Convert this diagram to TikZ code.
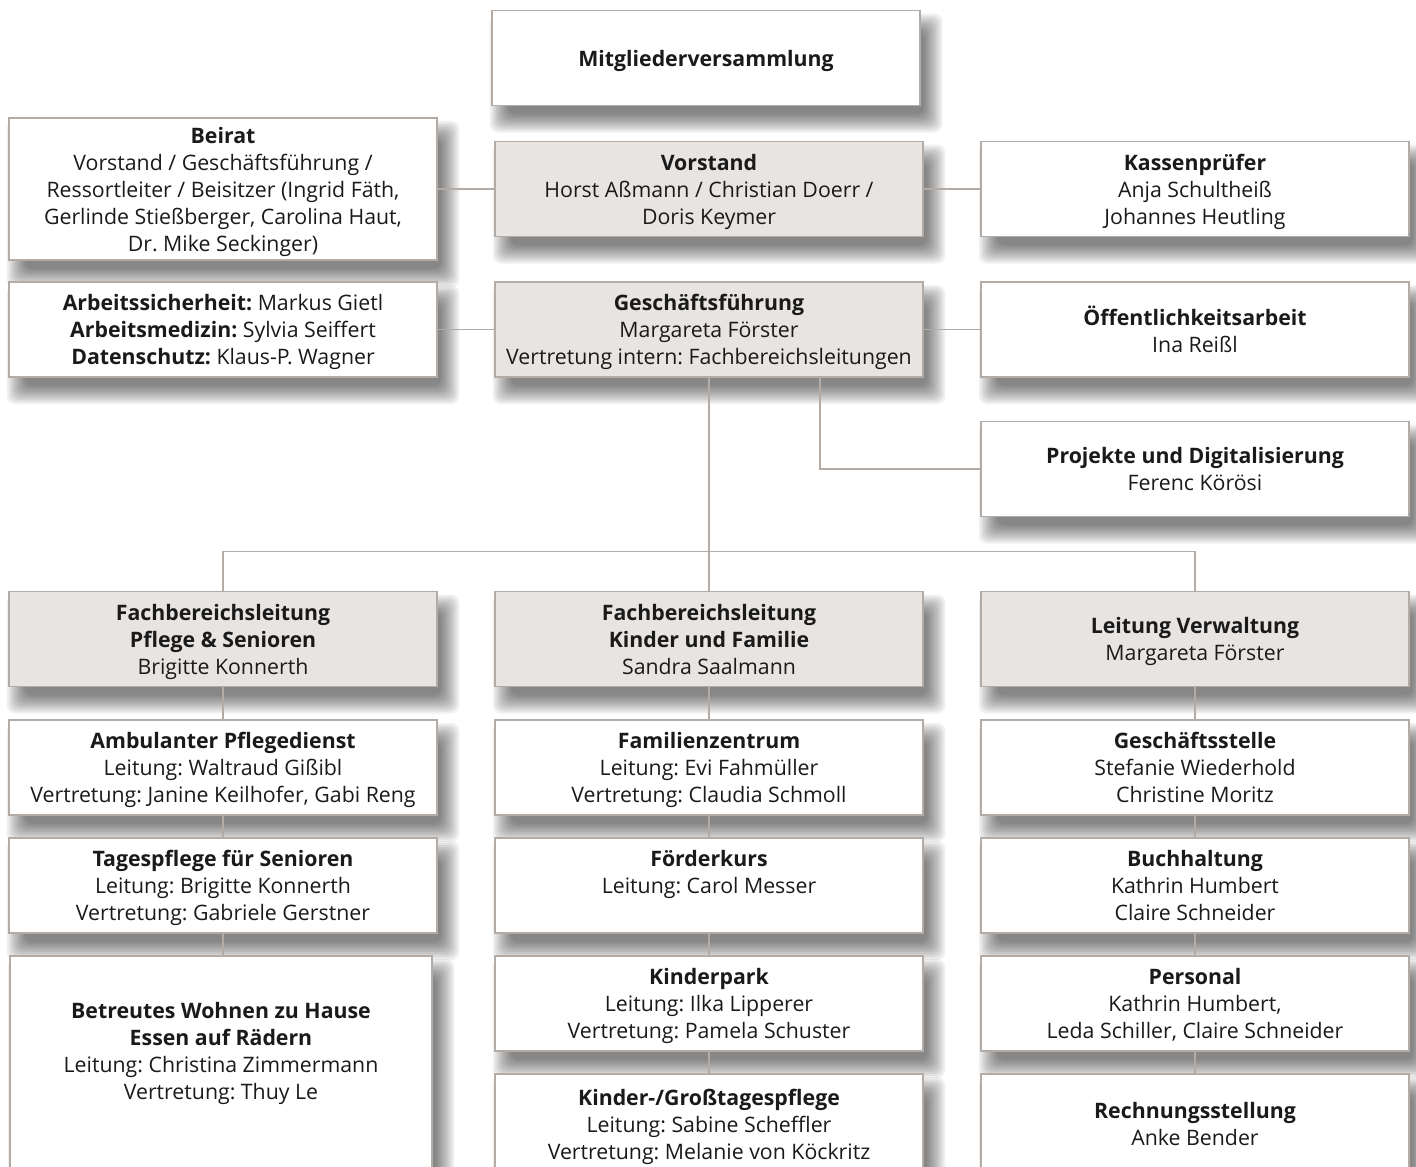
\documentclass[tikz,border=0pt]{standalone}
\usepackage{fontspec}
\setmainfont{Open Sans}
\frenchspacing
\usetikzlibrary{positioning,backgrounds}

\definecolor{edgegray}{HTML}{B3ABA5}
\definecolor{leadfill}{HTML}{E7E4E1}
\definecolor{inkblack}{HTML}{1A1A1A}

\tikzset{
  unit/.style={draw=edgegray, line width=1.6pt, fill=white, text=inkblack,
    minimum width=428.5pt, minimum height=95pt, outer sep=0pt,
    align=center, inner sep=4pt, text depth=-4pt,
    font=\fontsize{21.3}{27}\selectfont},
  lead/.style={unit, fill=leadfill},
  link/.style={draw=edgegray, line width=1.6pt},
  haze/.style={fill=black, opacity=0.06, rounded corners=8pt}
}

\begin{document}
\begin{tikzpicture}[x=1pt, y=-1pt, node distance=23pt and 57.5pt]

  \useasboundingbox (0,0) rectangle (1416,1167);

  % top rows
  \node (vorstand) [lead] at (709,189) {\textbf{Vorstand}\\Horst Aßmann / Christian Doerr /\\Doris Keymer};
  \node (mv) [unit, above=36pt of vorstand, xshift=-3pt, text depth=-1pt] {\textbf{Mitgliederversammlung}};
  \node (beirat) [unit, left=of vorstand, minimum height=142pt] {\textbf{Beirat}\\Vorstand / Geschäftsführung /\\Ressortleiter / Beisitzer (Ingrid Fäth,\\Gerlinde Stießberger, Carolina Haut,\\Dr. Mike Seckinger)};
  \node (kasse) [unit, right=of vorstand] {\textbf{Kassenprüfer}\\Anja Schultheiß\\Johannes Heutling};

  \node (gf) [lead, below=45.5pt of vorstand] {\textbf{Geschäftsführung}\\Margareta Förster\\Vertretung intern: Fachbereichsleitungen};
  \node (arbeit) [unit, left=of gf] {\textbf{Arbeitssicherheit:} Markus Gietl\\\textbf{Arbeitsmedizin:} Sylvia Seiffert\\\textbf{Datenschutz:} Klaus-P. Wagner};
  \node (oeff) [unit, right=of gf] {\textbf{Öffentlichkeitsarbeit}\\Ina Reißl};
  \node (proj) [unit, below=44.5pt of oeff] {\textbf{Projekte und Digitalisierung}\\Ferenc Körösi};

  % Fachbereiche
  \node (fbkinder) [lead, below=214.5pt of gf] {\textbf{Fachbereichsleitung}\\\textbf{Kinder und Familie}\\Sandra Saalmann};
  \node (fbpflege) [lead, left=of fbkinder] {\textbf{Fachbereichsleitung}\\\textbf{Pflege \& Senioren}\\Brigitte Konnerth};
  \node (verw) [lead, right=of fbkinder] {\textbf{Leitung Verwaltung}\\Margareta Förster};

  % Pflege & Senioren
  \node (amb) [unit, below=33.5pt of fbpflege] {\textbf{Ambulanter Pflegedienst}\\Leitung: Waltraud Gißibl\\Vertretung: Janine Keilhofer, Gabi Reng};
  \node (tages) [unit, below=of amb] {\textbf{Tagespflege für Senioren}\\Leitung: Brigitte Konnerth\\Vertretung: Gabriele Gerstner};
  \node (betreut) [unit, below=of tages, minimum width=422.5pt, minimum height=244pt, xshift=-2pt] {\textbf{Betreutes Wohnen zu Hause}\\\textbf{Essen auf Rädern}\\Leitung: Christina Zimmermann\\Vertretung: Thuy Le\\\mbox{}\\\mbox{}};

  % Kinder und Familie
  \node (famz) [unit, below=33.5pt of fbkinder] {\textbf{Familienzentrum}\\Leitung: Evi Fahmüller\\Vertretung: Claudia Schmoll};
  \node (foerder) [unit, below=of famz] {\textbf{Förderkurs}\\Leitung: Carol Messer\\\mbox{}};
  \node (kpark) [unit, below=of foerder] {\textbf{Kinderpark}\\Leitung: Ilka Lipperer\\Vertretung: Pamela Schuster};
  \node (ktp) [unit, below=of kpark, minimum height=100pt] {\textbf{Kinder-/Großtagespflege}\\Leitung: Sabine Scheffler\\Vertretung: Melanie von Köckritz};

  % Verwaltung
  \node (gst) [unit, below=33.5pt of verw] {\textbf{Geschäftsstelle}\\Stefanie Wiederhold\\Christine Moritz};
  \node (buch) [unit, below=of gst] {\textbf{Buchhaltung}\\Kathrin Humbert\\Claire Schneider};
  \node (pers) [unit, below=of buch] {\textbf{Personal}\\Kathrin Humbert,\\Leda Schiller, Claire Schneider};
  \node (rech) [unit, below=of pers, minimum height=100pt] {\textbf{Rechnungsstellung}\\Anke Bender};

  % soft shadows
  \begin{scope}[on background layer]
    \fill[white] (0,0) rectangle (1416,1167);
    \foreach \n in {mv, vorstand, beirat, kasse, gf, arbeit, oeff, proj,
                    fbkinder, fbpflege, verw, amb, tages, betreut,
                    famz, foerder, kpark, ktp, gst, buch, pers, rech}
      \foreach \g in {-6,-4,...,12}
        \fill[haze] ([shift={(10-\g,15-\g)}]\n.north west)
          rectangle ([shift={(10+\g,15+\g)}]\n.south east);
  \end{scope}

  % connectors
  \draw [link] (beirat) -- (vorstand);
  \draw [link] (vorstand) -- (kasse);
  \draw [link] (arbeit) -- (gf);
  \draw [link] (gf) -- (oeff);

  \coordinate (gfp) at ([xshift=111pt]gf.south);
  \draw [link] (gfp) |- (proj.west);

  \coordinate (bar) at ([yshift=40pt]fbkinder.north);
  \draw [link] (gf.south) -- (fbkinder.north);
  \draw [link] (fbpflege.north) |- (bar) -| (verw.north);

  \foreach \a/\b in {fbpflege/amb, amb/tages, tages/betreut,
                     fbkinder/famz, famz/foerder, foerder/kpark, kpark/ktp,
                     verw/gst, gst/buch, buch/pers, pers/rech}
    \draw [link] (\a.south) -- (\a.south |- \b.north);

\end{tikzpicture}
\end{document}
